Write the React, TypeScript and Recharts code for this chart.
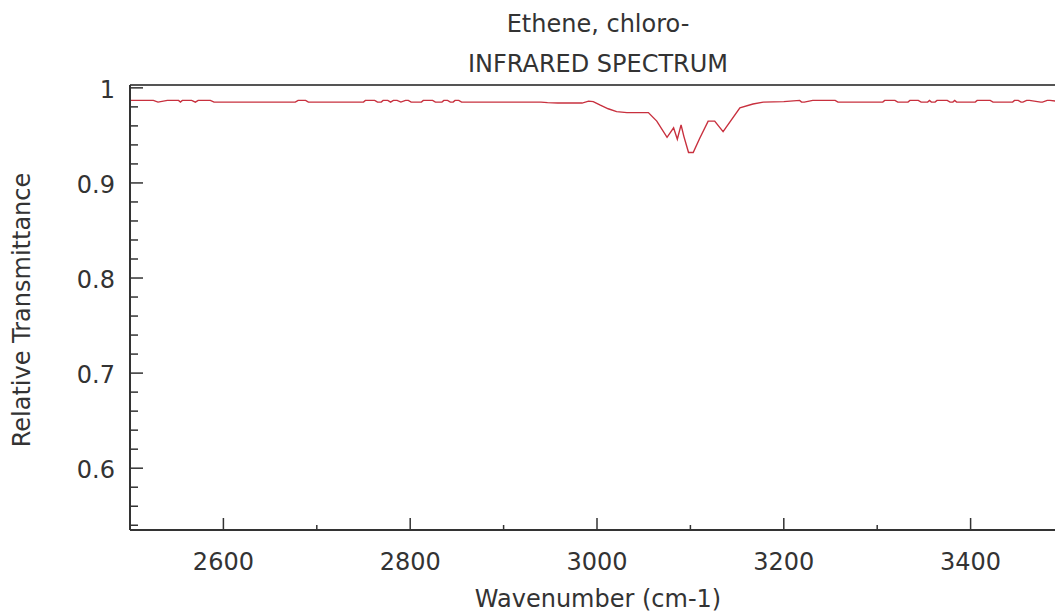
import React from 'react'
import { LineChart, Line, XAxis, YAxis, ReferenceLine } from 'recharts'

// wavenumber (cm-1)
const wavenumbers = [
  2500, 2504, 2525, 2530, 2540, 2552, 2554, 2556, 2566, 2570, 2573, 2586, 2590,
  2677, 2680, 2688, 2691, 2750, 2752, 2762, 2765, 2769, 2771, 2776, 2779, 2782,
  2786, 2790, 2795, 2798, 2801, 2812, 2814, 2824, 2827, 2834, 2836, 2840, 2843,
  2846, 2848, 2852, 2855, 2940, 2947, 2958, 2984, 2991, 2996, 3003, 3012, 3021,
  3032, 3055, 3064, 3075, 3082, 3086, 3090, 3093, 3098, 3103, 3110, 3119, 3126,
  3135, 3153, 3167, 3178, 3200, 3217, 3219, 3222, 3231, 3255, 3258, 3306, 3308,
  3319, 3322, 3333, 3335, 3344, 3347, 3354, 3356, 3358, 3362, 3364, 3375, 3378,
  3381, 3383, 3385, 3405, 3407, 3421, 3424, 3445, 3447, 3451, 3454, 3456, 3460,
  3463, 3475, 3477, 3482, 3485, 3500,
]

// relative transmittance at each wavenumber
const transmittance = [
  0.9868, 0.9868, 0.9868, 0.985, 0.9868, 0.9868, 0.985, 0.9868, 0.9868, 0.985,
  0.9868, 0.9868, 0.985, 0.985, 0.9868, 0.9868, 0.985, 0.985, 0.9868, 0.9868,
  0.985, 0.985, 0.9868, 0.9868, 0.985, 0.9868, 0.9868, 0.985, 0.9868, 0.9868,
  0.985, 0.985, 0.9868, 0.9868, 0.985, 0.985, 0.9868, 0.9868, 0.985, 0.985,
  0.9868, 0.9868, 0.985, 0.985, 0.9845, 0.984, 0.984, 0.986, 0.9855, 0.982,
  0.978, 0.975, 0.974, 0.974, 0.965, 0.948, 0.958, 0.946, 0.961, 0.949, 0.932,
  0.932, 0.947, 0.965, 0.965, 0.954, 0.979, 0.983, 0.985, 0.9855, 0.9868,
  0.985, 0.985, 0.9868, 0.9868, 0.985, 0.985, 0.9868, 0.9868, 0.985, 0.985,
  0.9868, 0.9868, 0.985, 0.985, 0.9868, 0.985, 0.985, 0.9868, 0.9868, 0.985,
  0.985, 0.9868, 0.985, 0.985, 0.9868, 0.9868, 0.985, 0.985, 0.9868, 0.9868,
  0.985, 0.985, 0.9868, 0.9868, 0.985, 0.985, 0.9868, 0.9868, 0.985, 0.985,
]

const xTicks = [2600, 2700, 2800, 2900, 3000, 3100, 3200, 3300, 3400]
const xLabelled = [2600, 2800, 3000, 3200, 3400]
const yTicks = [
  0.54, 0.56, 0.58, 0.6, 0.62, 0.64, 0.66, 0.68, 0.7, 0.72, 0.74, 0.76, 0.78,
  0.8, 0.82, 0.84, 0.86, 0.88, 0.9, 0.92, 0.94, 0.96, 0.98, 1.0,
]
const yLabelled = [0.6, 0.7, 0.8, 0.9, 1.0]
const yTop = 1.003

const data = wavenumbers.map((w, i) => ({ wn: w, t: transmittance[i] }))

const FONT = '"DejaVu Sans", sans-serif'
const INK = '#333'

const isMajor = (v: number, list: number[]) => list.some((m) => Math.abs(m - v) < 1e-6)

const XTick = (props: any) => {
  const { x, y, payload } = props
  const major = isMajor(payload.value, xLabelled)
  return (
    <g>
      <line x1={x} x2={x} y1={y} y2={y - (major ? 12 : 5)} stroke="#333" strokeWidth={1.5} />
      {major && (
        <text x={x} y={y + 40} textAnchor="middle" fontFamily={FONT} fontSize={24} fill={INK}>
          {payload.value}
        </text>
      )}
    </g>
  )
}

const YTick = (props: any) => {
  const { x, y, payload } = props
  const major = isMajor(payload.value, yLabelled)
  const label = Math.abs(payload.value - 1) < 1e-6 ? '1' : payload.value.toFixed(1)
  return (
    <g>
      <line x1={x} x2={x + (major ? 13 : 8)} y1={y} y2={y} stroke="#333" strokeWidth={1.5} />
      {major && (
        <text x={x - 15} y={y + 10} textAnchor="end" fontFamily={FONT} fontSize={24} fill={INK}>
          {label}
        </text>
      )}
    </g>
  )
}

const textStyle: React.CSSProperties = {
  position: 'absolute',
  fontFamily: FONT,
  fontSize: 24,
  color: INK,
  whiteSpace: 'nowrap',
  lineHeight: '24px',
}

export default function App() {
  return (
    <div
      style={{
        position: 'absolute',
        left: 0,
        top: 0,
        width: 1055,
        height: 612,
        overflow: 'hidden',
        background: '#fff',
      }}
    >
      <LineChart
        width={1080}
        height={612}
        data={data}
        margin={{ top: 85, right: 16, bottom: 42, left: 70 }}
      >
        <XAxis
          dataKey="wn"
          type="number"
          domain={[2500, 3500]}
          ticks={xTicks}
          interval={0}
          allowDataOverflow
          tickSize={0}
          tickMargin={0}
          tickLine={false}
          tick={<XTick />}
          height={40}
          axisLine={{ stroke: '#333', strokeWidth: 2 }}
        />
        <YAxis
          type="number"
          domain={[0.535, yTop]}
          ticks={yTicks}
          interval={0}
          allowDataOverflow
          tickSize={0}
          tickMargin={0}
          tickLine={false}
          tick={<YTick />}
          width={60}
          axisLine={{ stroke: '#333', strokeWidth: 2 }}
        />
        <ReferenceLine y={yTop} stroke="#555" strokeWidth={2} />
        <Line
          type="linear"
          dataKey="t"
          stroke="#c8303e"
          strokeWidth={1.4}
          dot={false}
          isAnimationActive={false}
        />
      </LineChart>
      <div style={{ ...textStyle, left: 0, width: 1196, top: 12, textAlign: 'center' }}>
        Ethene, chloro-
      </div>
      <div style={{ ...textStyle, left: 0, width: 1196, top: 52, textAlign: 'center' }}>
        INFRARED SPECTRUM
      </div>
      <div style={{ ...textStyle, left: 0, width: 1196, top: 587, textAlign: 'center' }}>
        Wavenumber (cm-1)
      </div>
      <div
        style={{
          ...textStyle,
          left: 22,
          top: 310,
          transform: 'translate(-50%, -50%) rotate(-90deg)',
        }}
      >
        Relative Transmittance
      </div>
    </div>
  )
}
